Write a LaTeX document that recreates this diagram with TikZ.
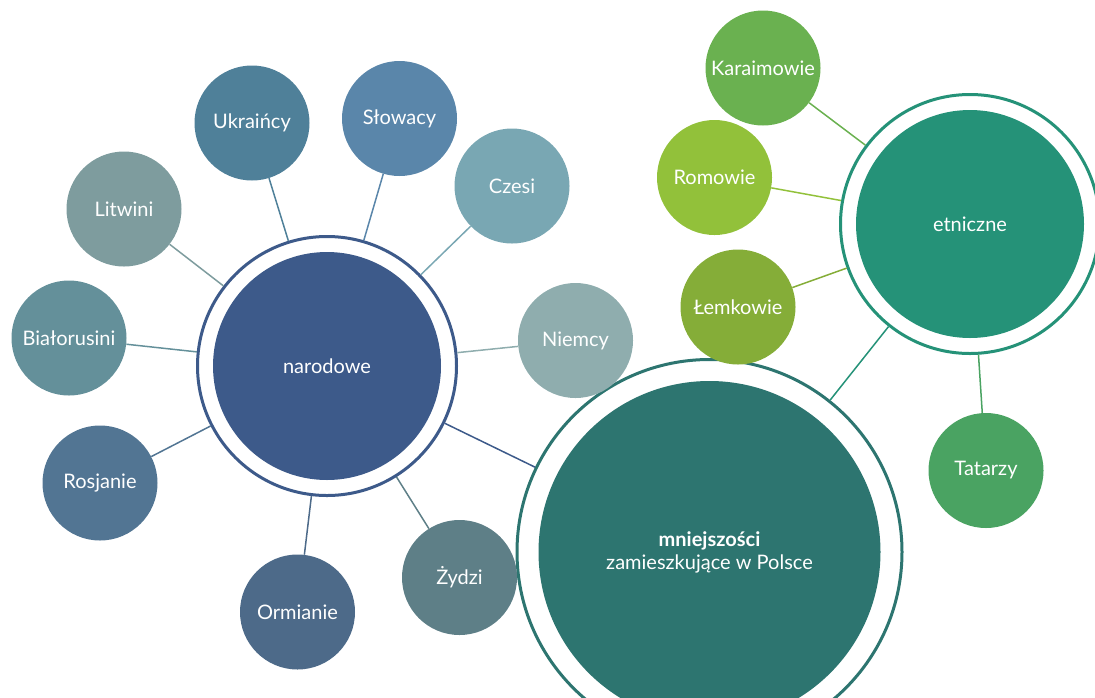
\documentclass[tikz,border=0pt]{standalone}
\usepackage{fontspec}
\setmainfont{Lato}
\definecolor{cNar}{HTML}{3D5A8A}
\definecolor{cMn}{HTML}{2D7570}
\definecolor{cEt}{HTML}{259278}
\definecolor{cKar}{HTML}{6AB150}
\definecolor{cRom}{HTML}{92C13A}
\definecolor{cLem}{HTML}{85AD38}
\definecolor{cTat}{HTML}{4AA362}
\definecolor{cUkr}{HTML}{4F8099}
\definecolor{cSlo}{HTML}{5A86AA}
\definecolor{cCze}{HTML}{79A7B3}
\definecolor{cNie}{HTML}{8FADAE}
\definecolor{cLit}{HTML}{7E9C9E}
\definecolor{cBia}{HTML}{64909A}
\definecolor{cRos}{HTML}{527593}
\definecolor{cOrm}{HTML}{4D6A89}
\definecolor{cZyd}{HTML}{5E7F87}
\begin{document}
\begin{tikzpicture}[x=1pt,y=-1pt,
  small/.style={circle, inner sep=0pt, minimum size=115pt, text=white, font=\fontsize{20}{23}\selectfont},
  ring/.style={circle, inner sep=0pt, draw, fill=white, line width=3pt},
  core/.style={circle, inner sep=0pt, text=white, font=\fontsize{20}{23}\selectfont, align=center},
  link/.style={line width=1.5pt}]
\useasboundingbox (0,0) rectangle (1095,697);
\clip (0,0) rectangle (1095,697);

% main circle
\node[ring, draw=cMn, minimum size=385pt] (mn) at (709.5,552) {};
\node[core, fill=cMn, minimum size=342pt] (mnI) at (709.5,552) {\textbf{mniejszości}\\zamieszkujące w Polsce};

% narodowe
\node[ring, draw=cNar, minimum size=259pt] (nar) at (327,366) {};
\node[core, fill=cNar, minimum size=228pt] (narI) at (327,366) {narodowe};

% etniczne
\node[ring, draw=cEt, minimum size=259pt] (et) at (970,224) {};
\node[core, fill=cEt, minimum size=228pt] (etI) at (970,224) {etniczne};

% narodowe children
\node[small, fill=cUkr] (ukr) at (252,123) {Ukraińcy};
\node[small, fill=cSlo] (slo) at (399.5,118.5) {Słowacy};
\node[small, fill=cCze] (cze) at (512,186) {Czesi};
\node[small, fill=cNie] (nie) at (575.5,340.5) {Niemcy};
\node[small, fill=cLit] (lit) at (124,209) {Litwini};
\node[small, fill=cBia] (bia) at (69,338) {Białorusini};
\node[small, fill=cRos] (ros) at (100,483) {Rosjanie};
\node[small, fill=cOrm] (orm) at (297.5,612) {Ormianie};
\node[small, fill=cZyd] (zyd) at (459.5,577.5) {Żydzi};

% etniczne children
\node[small, fill=cKar] (kar) at (763,68) {Karaimowie};
\node[small, fill=cRom] (rom) at (714.5,177.5) {Romowie};
\node[small, fill=cLem] (lem) at (738,307) {Łemkowie};
\node[small, fill=cTat] (tat) at (986,470.5) {Tatarzy};

% connectors
\draw[link, cUkr] (ukr) -- (nar);
\draw[link, cSlo] (slo) -- (nar);
\draw[link, cCze] (cze) -- (nar);
\draw[link, cNie] (nie) -- (nar);
\draw[link, cLit] (lit) -- (nar);
\draw[link, cBia] (bia) -- (nar);
\draw[link, cRos] (ros) -- (nar);
\draw[link, cOrm] (orm) -- (nar);
\draw[link, cZyd] (zyd) -- (nar);
\draw[link, cKar] (kar) -- (et);
\draw[link, cRom] (rom) -- (et);
\draw[link, cLem] (lem) -- (et);
\draw[link, cTat] (tat) -- (et);
\draw[link, cNar] (nar) -- (mn);
\draw[link, cEt] (et) -- (mn);
\end{tikzpicture}
\end{document}
